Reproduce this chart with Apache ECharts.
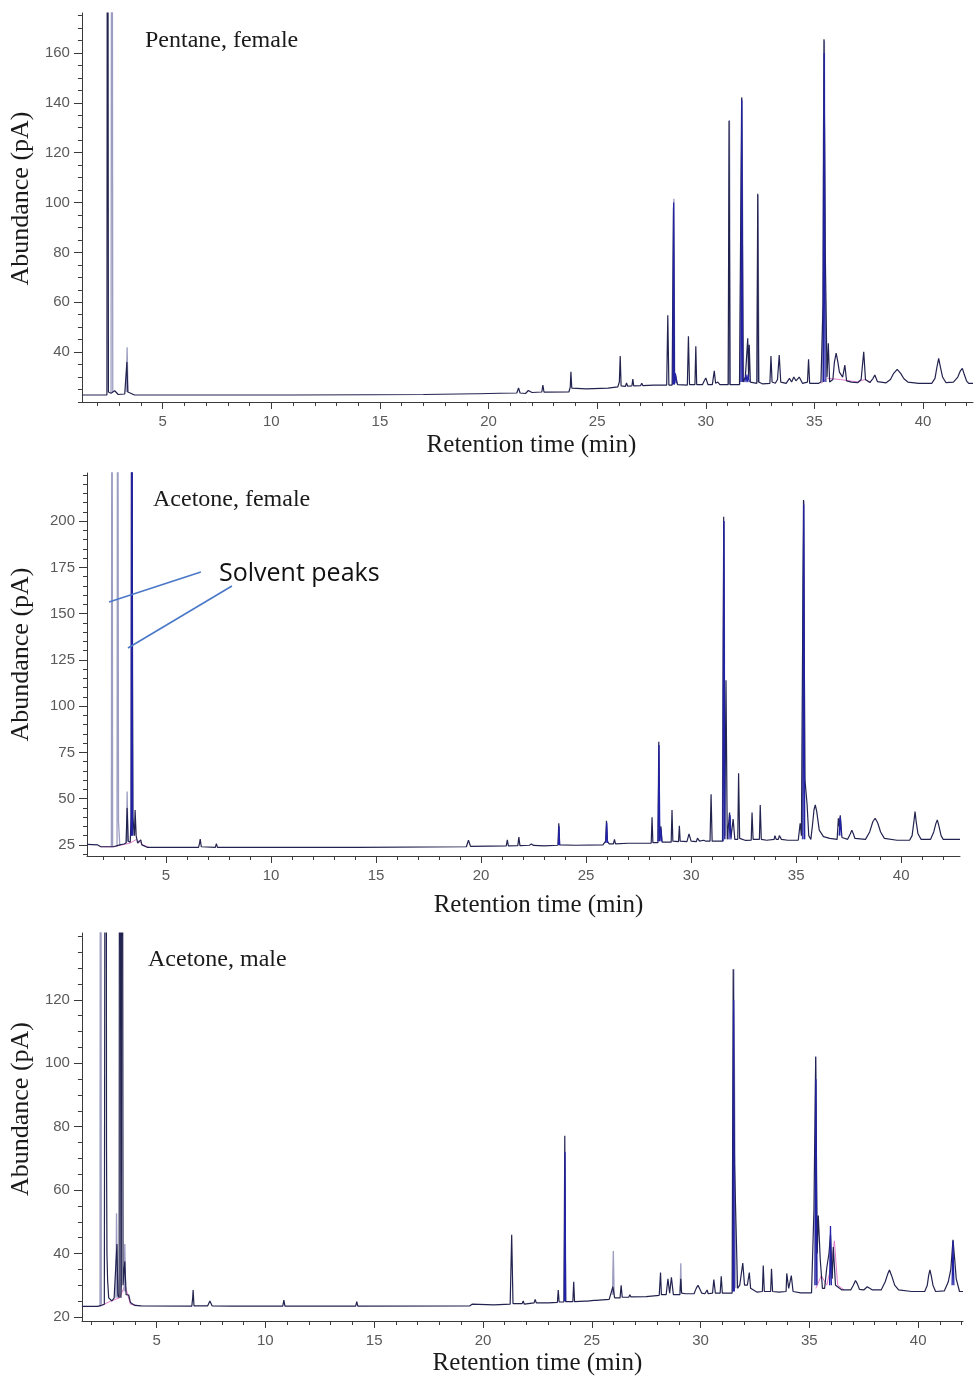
<!DOCTYPE html>
<html><head><meta charset="utf-8">
<script src="https://cdn.jsdelivr.net/npm/echarts@6/dist/echarts.min.js"></script>
<style>html,body{margin:0;padding:0;background:#fff}#c{width:976px;height:1377px}</style>
</head><body><div id="c"></div>
<script>
// ---------- tick labels ----------
const X_LABELS = [5, 10, 15, 20, 25, 30, 35, 40];
const Y_LABELS_PENTANE_F = [40, 60, 80, 100, 120, 140, 160];
const Y_LABELS_ACETONE_F = [25, 50, 75, 100, 125, 150, 175, 200];
const Y_LABELS_ACETONE_M = [20, 40, 60, 80, 100, 120];
const PANEL_TITLES = ['Pentane, female', 'Acetone, female', 'Acetone, male'];

// ---------- Pentane, female (retention time min, abundance pA) ----------
const pentaneMain = [[1.28,22.8],[2.43,22.8],[2.46,400],[2.50,24],[2.62,23.5],[2.79,24.5],[2.95,23],[3.25,23.2],[3.31,24],[3.35,36],[3.39,24],[3.5,23.6],[3.7,22.8],
[6.55,22.8],[6.6,23.4],[6.65,22.8],[7.4,22.8],[7.44,23.3],[7.48,22.8],[8.05,22.8],[8.1,23.3],[8.15,22.8],[8.45,22.8],[8.5,23.2],[8.55,22.8],[10.85,22.8],[10.9,23.3],[10.95,22.8],[14.5,22.9],[14.55,23.2],[14.6,22.9],[17,23],[19.45,23.3],[19.5,24],[19.55,23.3],[20.5,23.5],[21.3,23.6],[21.38,25.6],[21.45,23.6],[21.7,23.4],[21.83,24.6],[22,23.8],[22.45,24],[22.5,26.8],[22.55,24],[23.7,24.1],[23.76,26],[23.79,32.1],[23.83,25.6],[24.5,25.3],[25.5,25.6],[25.95,26.1],[26.02,28],[26.06,38.4],[26.1,26.5],[26.3,26.3],[26.35,27.6],[26.4,26.4],[26.6,26.5],[26.64,29.2],[26.68,26.5],[27.0,26.6],[27.05,27.5],[27.1,26.6],[27.6,26.8],[28.2,26.8],[28.25,54.8],[28.3,26.8],[28.45,26.8],[28.51,98],[28.56,28],[28.6,31],[28.7,27],[29.15,26.8],[29.2,46.4],[29.25,27],[29.5,27],[29.54,42.4],[29.58,27],[29.85,27],[29.93,28.5],[30,29.6],[30.1,27],[30.3,27],[30.39,32.5],[30.45,27.5],[30.55,28],[30.65,27],[31.03,27],[31.07,132.8],[31.11,27],[31.55,27],[31.65,142.1],[31.72,28],[31.82,30],[31.93,45.6],[31.97,30],[32.0,43],[32.05,28],[32.35,27.5],[32.39,103.5],[32.43,28],[32.6,27.3],[32.95,27.5],[33.0,38.4],[33.05,28],[33.2,27.5],[33.3,29],[33.38,38.8],[33.45,28],[33.7,27.5],[33.85,29.5],[33.95,28],[34.05,30],[34.15,28.5],[34.3,30],[34.45,27.5],[34.68,28],[34.73,37.1],[34.78,27.5],[35.2,27.5],[35.3,28],[35.4,60],[35.44,165.5],[35.5,80],[35.58,30],[35.64,43.6],[35.7,28],[35.85,29],[35.92,36],[36.0,39.6],[36.08,36],[36.15,32],[36.3,30],[36.4,34.8],[36.48,28.5],[36.7,28],[37.0,27.8],[37.15,29],[37.27,40.1],[37.35,29],[37.55,27.8],[37.7,29.5],[37.78,30.8],[37.9,28.2],[38.3,27.7],[38.5,29],[38.65,31.5],[38.81,33.1],[38.97,31.5],[39.12,29.3],[39.3,28],[39.8,27.5],[40.4,27.5],[40.55,29.5],[40.64,34],[40.72,37.5],[40.8,34],[40.9,30],[41.05,27.8],[41.4,28],[41.6,30],[41.72,32.5],[41.81,33.5],[41.9,31],[42.0,28.5],[42.1,27.5],[42.3,27.5]];
const pentaneLight = [
 [[2.62,24],[2.66,400],[2.70,24]],
 [[3.32,24],[3.36,42],[3.40,24]],
 [[28.47,27],[28.53,101.5],[28.57,27]],
 [[31.04,27],[31.09,133],[31.13,27]],
 [[31.57,27],[31.61,77],[31.66,142],[31.70,88],[31.74,28]],
 [[32.36,28],[32.40,103],[32.45,28]],
 [[35.36,28],[35.41,124],[35.46,165],[35.50,68],[35.55,28]]];
const pentaneBlue = [
 [[28.49,27],[28.52,100],[28.55,27],[28.6,31.5],[28.65,27.5]],
 [[31.62,28],[31.655,141],[31.69,28]],
 [[31.80,28],[31.85,31],[31.9,28],[31.95,31],[32.0,28]],
 [[35.41,28],[35.45,160],[35.49,28]]];
const pentanePink = [[35.3,27.5],[35.6,29.5],[36.2,29],[37.0,28],[37.3,29],[37.6,28]];

// ---------- Acetone, female ----------
const acetFMain = [[1.24,25.3],[1.75,25],[1.9,24],[2.5,24],[2.8,25],[3.0,25.5],[3.1,26],[3.15,45],[3.2,27],[3.3,26.5],[3.34,40],[3.37,400],[3.42,40],[3.5,30],[3.53,43.9],[3.58,30],[3.65,26],[3.8,27.7],[3.85,25],[4.1,23.7],[6.55,23.7],[6.6,26],[6.63,28.2],[6.68,24],[7.35,23.7],[7.4,25.7],[7.45,23.7],[8.42,23.7],[8.46,24.6],[8.5,23.7],[10.87,23.7],[10.91,24.4],[10.95,23.7],[14.15,23.7],[14.19,24.4],[14.23,23.7],[19.3,24],[19.4,27.5],[19.5,24.2],[21.2,24.5],[21.25,27.7],[21.3,24.5],[21.75,24.6],[21.8,29.2],[21.85,24.6],[22.3,24.8],[22.4,25.5],[22.5,24.7],[23.0,24.5],[23.66,24.8],[23.7,36.7],[23.74,25],[24.5,24.8],[25.8,25],[25.93,27],[25.97,38.1],[26.01,27],[26.1,25.5],[26.3,25.6],[26.35,28],[26.4,25.6],[27.0,25.9],[28.1,26],[28.14,39.9],[28.18,26.2],[28.42,26.2],[28.46,80.8],[28.5,27],[28.56,35],[28.62,26.5],[29.05,26.5],[29.09,43.9],[29.13,27],[29.4,26.8],[29.44,35.3],[29.48,27],[29.8,26.8],[29.9,31],[30.0,27],[30.25,26.8],[30.3,28.7],[30.4,27],[30.6,27.5],[30.7,27],[30.9,27],[30.95,52.4],[31.0,27],[31.5,27],[31.55,202.4],[31.6,30],[31.66,114],[31.72,28],[31.83,42.5],[31.9,29],[32.0,39],[32.08,28],[32.22,28],[32.26,63.7],[32.31,28.5],[32.6,27.4],[32.86,27.5],[32.9,42.5],[32.95,28],[33.25,28],[33.29,46.6],[33.34,28],[33.6,27.5],[33.95,28],[33.99,30],[34.05,28],[34.15,28],[34.2,30],[34.3,28],[34.6,27.5],[35.1,27.5],[35.19,36.7],[35.25,30],[35.35,211.4],[35.42,60],[35.52,47],[35.6,30],[35.7,28],[35.78,36],[35.85,44],[35.91,46.6],[35.98,43],[36.1,33],[36.3,29.5],[36.6,28.5],[36.95,28],[37.01,39.4],[37.05,35],[37.1,41],[37.18,29],[37.45,28],[37.58,31],[37.65,33],[37.72,31],[37.8,28.5],[38.3,28],[38.5,32],[38.65,37.5],[38.76,39.4],[38.88,37],[39.02,32],[39.2,28.5],[39.8,27.5],[40.4,27.5],[40.52,30],[40.6,37],[40.66,43],[40.72,37],[40.8,31],[40.95,28],[41.4,28],[41.55,32],[41.65,36.5],[41.72,38.5],[41.8,35],[41.9,30],[42.0,28],[42.8,28]];
const acetFLight = [
 [[2.40,24],[2.43,400],[2.46,24]],
 [[2.67,24],[2.70,400],[2.74,37.6],[2.80,25]],
 [[3.12,26],[3.15,53.8],[3.19,27]],
 [[3.35,30],[3.40,118],[3.44,30]],
 [[31.49,27],[31.52,140],[31.57,200],[31.61,28]],
 [[35.29,28],[35.32,160],[35.37,211],[35.41,28]]];
const acetFBlue = [
 [[3.345,30],[3.375,400],[3.405,30]],
 [[23.68,25],[23.71,35],[23.74,25]],
 [[25.94,26],[25.98,37],[26.02,26]],
 [[28.43,27],[28.47,79],[28.51,27],[28.56,34],[28.6,27]],
 [[31.52,27],[31.56,200],[31.6,28]],
 [[31.8,28],[31.85,41],[31.9,28]],
 [[35.32,28],[35.36,209],[35.4,28]],
 [[37.05,30],[37.1,40],[37.15,30]]];
const acetFPink = [[1.9,24],[2.5,24],[2.9,25],[3.3,26],[3.6,28],[3.9,25],[4.2,23.7]];

// ---------- Acetone, male ----------
const acetMMain = [[1.57,23.3],[2.3,23.3],[2.6,24],[2.64,24.5],[2.67,400],[2.70,74],[2.72,40],[2.75,31.7],[2.8,26],[2.95,25],[3.05,26],[3.1,25.5],[3.18,43],[3.22,27],[3.28,26],[3.31,400],[3.36,26],[3.38,30],[3.41,400],[3.46,30],[3.54,37.5],[3.6,27],[3.72,26.9],[3.8,24.5],[4.0,23.6],[4.3,23.5],[6.62,23.4],[6.66,26],[6.68,28.5],[6.72,23.5],[7.35,23.5],[7.45,25],[7.55,23.5],[8.45,23.4],[8.5,24],[8.55,23.4],[10.8,23.4],[10.85,25.3],[10.9,23.4],[14.15,23.4],[14.2,24.8],[14.25,23.4],[19.4,23.5],[19.5,24],[20.5,23.8],[21.25,24],[21.32,45.9],[21.38,24.2],[21.8,24.2],[21.85,25],[21.9,24],[22.35,24.4],[22.4,25.5],[22.45,24.4],[23.0,24.4],[23.42,24.6],[23.46,28.5],[23.5,24.7],[23.72,24.7],[23.76,77.1],[23.8,24.8],[24.13,24.8],[24.17,31.1],[24.21,24.8],[24.7,25],[24.75,25.6],[24.8,25],[25.1,25.2],[25.15,25.8],[25.2,25.2],[25.8,25.5],[25.97,29.5],[26.05,26],[26.3,26],[26.35,30],[26.4,26.2],[26.7,26.2],[26.75,27],[26.8,26.3],[27.5,26.4],[28.1,26.8],[28.16,34],[28.2,27],[28.42,27],[28.5,32],[28.58,27.5],[28.66,32.5],[28.75,27],[29.05,27],[29.09,32],[29.13,27.5],[29.3,27.3],[29.7,27.3],[29.8,29],[29.88,30],[29.95,29],[30.05,27.5],[30.2,27.3],[30.3,28.5],[30.35,27.3],[30.55,27.5],[30.61,31.8],[30.68,27.5],[30.9,27.5],[30.95,32.8],[31.0,27.5],[31.45,27.5],[31.5,129.7],[31.56,68],[31.64,68],[31.7,29],[31.8,30],[31.94,37],[32.02,30],[32.15,30],[32.24,34],[32.3,29],[32.6,27.8],[32.84,28],[32.88,36.2],[32.93,28],[33.22,28],[33.26,35.2],[33.31,28],[33.6,27.8],[33.93,28],[33.96,33.7],[34.05,29],[34.12,29],[34.17,33],[34.25,28],[34.6,27.6],[35.1,27.6],[35.21,53.8],[35.29,102],[35.36,40],[35.41,52],[35.5,38],[35.6,29],[35.7,29],[35.8,35.5],[35.9,40],[35.97,46],[36.05,32],[36.1,42],[36.2,30],[36.5,28.5],[36.9,28.5],[37.02,30],[37.12,31.5],[37.2,30.5],[37.3,28.7],[37.5,28.5],[37.66,29.5],[37.9,28.5],[38.3,28.5],[38.48,31],[38.6,33.5],[38.68,34.8],[38.78,33],[38.92,30],[39.1,28.5],[39.7,28],[40.3,28],[40.42,30],[40.48,33],[40.54,34.8],[40.6,33],[40.68,30],[40.8,28],[41.2,28.2],[41.38,31],[41.5,35],[41.6,44.3],[41.68,38],[41.75,32],[41.9,28],[42.06,28]];
const acetMLight = [
 [[2.40,23.3],[2.43,400],[2.46,24]],
 [[3.13,26],[3.16,52.7],[3.2,26]],
 [[3.51,28],[3.54,43],[3.58,28]],
 [[25.95,27],[25.99,40.8],[26.03,27]],
 [[29.06,28],[29.09,36.9],[29.12,28]],
 [[31.47,28],[31.53,129.7],[31.58,70],[31.62,29]],
 [[35.25,30],[35.29,102.3],[35.33,55],[35.37,30]]];
const acetMBlue = [
 [[23.74,25],[23.77,72],[23.8,25]],
 [[31.49,28],[31.52,120],[31.55,28]],
 [[35.26,30],[35.30,95],[35.34,30]],
 [[35.93,30],[35.97,48.7],[36.01,30]],
 [[41.56,30],[41.6,44],[41.64,30]]];
const acetMPink = [[2.4,23.3],[2.9,25],[3.3,26],[3.55,30],[3.8,24],[4.2,23.5],[null,null],[35.3,29],[35.55,33],[35.8,30],[36.0,36],[36.15,44],[36.3,30],[36.6,28.5]];

// ---------- annotation anchor points (acetone female panel, data coords) ----------
const solventArrows = [
 [[6.66, 172.5], [2.29, 156.3]],
 [[8.14, 164.9], [3.19, 131.4]]];

// ---------- helpers ----------
function joinSegs(segs) {
  const out = [];
  segs.forEach((s, i) => { if (i) out.push([s[0][0], '-']); s.forEach(p => out.push(p)); });
  return out;
}
function fixNulls(arr) { return arr.map(p => p[0] == null ? [0, '-'] : p); }
function range(a, b, step) { const r = []; for (let v = a; v <= b + 1e-9; v += step) r.push(v); return r; }

const panels = [
  { grid: { left: 81, top: 13, width: 892, height: 389 }, x: [1.28, 42.3], y: [20, 176], yl: Y_LABELS_PENTANE_F,
    main: pentaneMain, light: pentaneLight, blue: pentaneBlue, pink: pentanePink, yGap: 47, yShift: 18, xGap: 31, xShift: 8, title: [145, 43] },
  { grid: { left: 86, top: 473, width: 874, height: 383 }, x: [1.24, 42.8], y: [19, 226], yl: Y_LABELS_ACETONE_F,
    main: acetFMain, light: acetFLight, blue: acetFBlue, pink: acetFPink, yGap: 53, yShift: 20, xGap: 37, xShift: 30, title: [153, 502] },
  { grid: { left: 77, top: 933, width: 886, height: 388 }, x: [1.57, 42.06], y: [18.7, 141.1], yl: Y_LABELS_ACETONE_M,
    main: acetMMain, light: acetMLight, blue: acetMBlue, pink: acetMPink, yGap: 44, yShift: 36, xGap: 30, xShift: 30, title: [148, 962] }
];

const AX = '#3a3a3a';
const tickFont = { fontFamily: 'Liberation Sans, Arial, sans-serif', fontSize: 15, color: '#5a5a5a' };
const nameFont = { fontFamily: 'Liberation Serif, Times New Roman, serif', fontSize: 25, color: '#1a1a1a' };

const grids = [], xAxes = [], yAxes = [], series = [], graphics = [];
panels.forEach((p, i) => {
  grids.push(p.grid);
  xAxes.push({ type: 'value', gridIndex: i, min: p.x[0], max: p.x[1], position: 'bottom',
    axisLine: { show: true, onZero: false, lineStyle: { color: AX, width: 1 } },
    axisTick: { show: true, length: 7, customValues: X_LABELS, lineStyle: { color: AX } },
    axisLabel: { show: true, customValues: X_LABELS, margin: 12, ...tickFont },
    splitLine: { show: false },
    name: 'Retention time (min)', nameLocation: 'middle', nameGap: p.xGap,
    nameTextStyle: { ...nameFont, padding: [0, 0, 0, p.xShift] } });
  xAxes.push({ type: 'value', gridIndex: i, min: p.x[0], max: p.x[1], position: 'bottom',
    axisLine: { show: false, onZero: false },
    axisTick: { show: true, length: 4, customValues: range(2, 42, 1), lineStyle: { color: AX } },
    axisLabel: { show: false, customValues: [] }, splitLine: { show: false } });
  yAxes.push({ type: 'value', gridIndex: i, min: p.y[0], max: p.y[1], position: 'left',
    axisLine: { show: true, onZero: false, lineStyle: { color: AX, width: 1 } },
    axisTick: { show: true, length: 8, customValues: p.yl, lineStyle: { color: AX } },
    axisLabel: { show: true, customValues: p.yl, margin: 12, ...tickFont },
    splitLine: { show: false },
    name: 'Abundance (pA)', nameLocation: 'middle', nameGap: p.yGap,
    nameTextStyle: { ...nameFont, fontSize: 26, padding: [0, 0, 0, p.yShift] } });
  yAxes.push({ type: 'value', gridIndex: i, min: p.y[0], max: p.y[1], position: 'left',
    axisLine: { show: false, onZero: false },
    axisTick: { show: true, length: 4, customValues: range(20, Math.floor(p.y[1] / 5) * 5, 5), lineStyle: { color: AX } },
    axisLabel: { show: false, customValues: [] }, splitLine: { show: false } });

  const xi = i * 2, yi = i * 2;
  const base = { type: 'line', xAxisIndex: xi, yAxisIndex: yi, showSymbol: false, symbol: 'none',
    silent: true, animation: false, clip: true, connectNulls: false };
  series.push({ ...base, name: 'pink' + i, data: fixNulls(p.pink), z: 1, lineStyle: { color: '#e27acb', width: 1 } });
  series.push({ ...base, name: 'light' + i, data: joinSegs(p.light), z: 2, lineStyle: { color: '#9d9dc2', width: 1.3 } });
  const s = { ...base, name: 'main' + i, data: p.main, z: 3, lineStyle: { color: '#232350', width: 1.2 } };
  if (i === 1) {
    s.markLine = { silent: true, symbol: ['none', 'none'], animation: false,
      lineStyle: { color: '#4a78c8', width: 1.6, type: 'solid' }, label: { show: false },
      data: solventArrows.map(a => [{ coord: a[0] }, { coord: a[1] }]) };
  }
  series.push(s);
  series.push({ ...base, name: 'blue' + i, data: joinSegs(p.blue), z: 4, lineStyle: { color: '#2222a6', width: 1.3 } });

  graphics.push({ type: 'text', left: p.title[0], top: p.title[1] - 14, z: 100,
    style: { text: PANEL_TITLES[i], font: '24px "Liberation Serif", "Times New Roman", serif', fill: '#1a1a1a' } });
});
graphics.push({ type: 'text', left: 219, top: 561, z: 100,
  style: { text: 'Solvent peaks', font: '25px "Open Sans", "Noto Sans", sans-serif', fill: '#111' } });

const chart = echarts.init(document.getElementById('c'), null, { renderer: 'canvas' });
chart.setOption({ backgroundColor: '#fff', animation: false, grid: grids, xAxis: xAxes, yAxis: yAxes, series: series, graphic: graphics });
</script></body></html>
